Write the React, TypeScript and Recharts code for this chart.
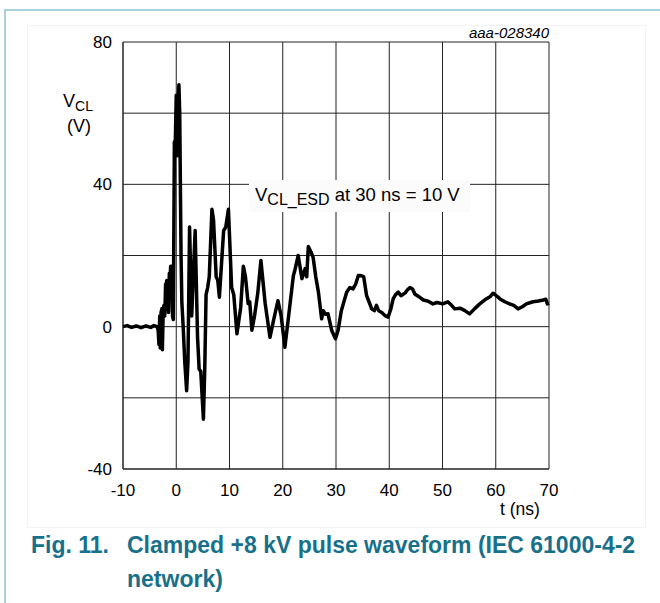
import { CartesianGrid, Line, LineChart, XAxis, YAxis } from "recharts";

// clamped ESD waveform
const TIME_NS = [
  -10, -9.2, -8.4, -7.5, -6.6, -5.7, -4.8, -4.2, -3.6, -3.4,
  -3.25, -3.1, -3.0, -2.85, -2.7, -2.6, -2.45, -2.3, -2.15, -2.0,
  -1.9, -1.8, -1.7, -1.55, -1.45, -1.3, -1.2, -1.05, -0.85, -0.7,
  -0.55, -0.35, -0.2, 0.0, 0.15, 0.3, 0.5, 0.65, 0.9, 1.05,
  1.3, 1.6, 1.95, 2.2, 2.5, 2.9, 3.55, 4.0, 4.3, 4.6,
  5.1, 5.35, 5.6, 5.9, 6.2, 6.7, 7.0, 7.5, 7.8, 8.1,
  8.9, 9.3, 9.8, 10.4, 10.8, 11.4, 12.1, 12.6, 13.0, 13.5,
  13.8, 14.2, 14.7, 15.3, 15.9, 16.7, 17.6, 18.3, 19.1, 19.7,
  20.4, 21, 22, 22.3, 22.9, 23.6, 24.2, 24.5, 24.8, 25.3,
  25.7, 26.2, 26.7, 27.3, 27.6, 28.0, 28.5, 29.2, 29.9, 30.4,
  31, 32, 32.6, 33.2, 33.7, 34.2, 34.8, 35.2, 35.75, 36.2,
  36.7, 37.2, 37.6, 38.0, 38.6, 39.2, 39.8, 40.3, 40.75, 41.2,
  41.7, 42.2, 43.0, 43.5, 43.9, 44.4, 44.8, 45.5, 46.4, 47.2,
  48.2, 49, 50, 51, 51.7, 52.3, 53.3, 54.2, 55.1, 56,
  57, 58.2, 59, 59.5, 60.2, 60.8, 61.7, 62.6, 63.4, 64.2,
  65, 65.75, 67, 68, 68.9, 69.4, 69.7, 70,
];

const V_CL = [
  0, 0.3, -0.2, 0.2, -0.3, 0.2, -0.2, 0.3, 0, -1,
  -5, 3, -6, 4, 5, -6.5, 5, 6, 3, 12,
  7, 13, 8, 10, 4, 15, 12, 17, 17, 3,
  2, 52, 50, 65, 48, 62, 68, 60, 20, 7,
  0, -10, -18, -10, 28, 3, 27, -3, -12, -12.5,
  -26, -12, 9, 11, 14, 33, 30, 14, 13, 8.3,
  27, 28, 33, 11, 9, -2, 5.4, 17, 14, 6.5,
  7, -1, 3, 9.3, 18.6, 6.5, -3, 2, 7.3, 3,
  -5.8, 1.7, 14.4, 16, 20, 13.5, 16.3, 14, 22.5, 21,
  19.5, 14, 9.7, 2.2, 4.5, 3.5, 3.6, -1.1, -3.4, -1,
  4.5, 9.7, 11, 10.6, 12, 14.4, 14.3, 14, 8.7, 7,
  5, 4.5, 6, 4.5, 4, 3.1, 2.7, 5, 7.9, 9,
  9.7, 8.7, 9.5, 10.5, 11, 10.5, 9.2, 8.5, 7.5, 7.2,
  6.4, 6.8, 6.4, 7, 6, 5, 5.2, 4.5, 3.6, 5,
  6.4, 7.8, 8.5, 9.4, 8.6, 7.8, 7, 6.4, 6, 5,
  5.6, 6.4, 7, 7.2, 7.5, 7.7, 6.4, 6.6,
];

const X_TICKS = [-10, 0, 10, 20, 30, 40, 50, 60, 70];
const Y_TICKS = [-40, -20, 0, 20, 40, 60, 80];
const Y_LABELED = [-40, 0, 40, 80];

const data = TIME_NS.map((t, i) => ({ t, v: V_CL[i] }));

const FONT = "'Liberation Sans', Arial, sans-serif";
const FRAME = "#a9d0dc";
const CAPTION = "#18708b";

// subscript that does not stretch the line box
const subStyle = (size: number) => ({
  fontSize: size,
  verticalAlign: "baseline",
  position: "relative" as const,
  top: 4,
});

export default function App() {
  return (
    <div
      style={{
        position: "absolute",
        left: 0,
        top: 0,
        width: 660,
        height: 603,
        background: "#fff",
        fontFamily: FONT,
        overflow: "hidden",
      }}
    >
      {/* page frame */}
      <div
        style={{
          position: "absolute",
          left: 4,
          top: 9,
          width: 670,
          height: 620,
          borderLeft: `2px solid ${FRAME}`,
          borderTop: `2px solid ${FRAME}`,
        }}
      />
      <div
        style={{
          position: "absolute",
          left: 27,
          top: 25,
          width: 617,
          height: 501,
          border: "1px solid #f3f3f3",
        }}
      />

      <div style={{ position: "absolute", left: 0, top: 0 }}>
        <LineChart width={660} height={603} data={data} margin={{ top: 42, right: 111, bottom: 104, left: 63 }}>
          <CartesianGrid stroke="#222" strokeWidth={1} />
          <XAxis
            dataKey="t"
            type="number"
            domain={[-10, 70]}
            ticks={X_TICKS}
            interval={0}
            tickLine={false}
            axisLine={{ stroke: "#222" }}
            tickSize={6}
            tickMargin={9}
            height={30}
            tick={{ fill: "#000", fontSize: 17, fontFamily: FONT }}
          />
          <YAxis
            type="number"
            domain={[-40, 80]}
            ticks={Y_TICKS}
            interval={0}
            tickLine={false}
            axisLine={{ stroke: "#222" }}
            tickSize={6}
            tickMargin={5}
            width={60}
            tickFormatter={(v: number) => (Y_LABELED.includes(v) ? String(v) : "")}
            tick={{ fill: "#000", fontSize: 17, fontFamily: FONT }}
          />
          <Line
            type="linear"
            dataKey="v"
            stroke="#000"
            strokeWidth={3.5}
            dot={false}
            isAnimationActive={false}
            strokeLinejoin="round"
          />
        </LineChart>
      </div>

      {/* figure id */}
      <div
        style={{
          position: "absolute",
          right: 660 - 549,
          top: 24,
          fontSize: 15,
          fontStyle: "italic",
          color: "#000",
        }}
      >
        aaa-028340
      </div>

      {/* y axis title */}
      <div style={{ position: "absolute", left: 63, top: 89, fontSize: 18, lineHeight: "24px", color: "#000" }}>
        <div>
          V<span style={subStyle(14)}>CL</span>
        </div>
        <div style={{ marginLeft: 4 }}>(V)</div>
      </div>

      {/* annotation */}
      <div
        style={{
          position: "absolute",
          left: 249,
          top: 180,
          width: 221,
          height: 32,
          background: "#fbfbfb",
          fontSize: 18.5,
          lineHeight: "30px",
          color: "#000",
          whiteSpace: "nowrap",
          boxSizing: "border-box",
          paddingLeft: 6,
        }}
      >
        V<span style={subStyle(16)}>CL_ESD</span> at 30 ns = 10 V
      </div>

      {/* x axis title */}
      <div style={{ position: "absolute", left: 500, top: 499, fontSize: 17.5, color: "#000" }}>t (ns)</div>

      {/* caption */}
      <div
        style={{
          position: "absolute",
          left: 31,
          top: 528,
          fontSize: 23,
          fontWeight: "bold",
          lineHeight: "34px",
          color: CAPTION,
          display: "flex",
        }}
      >
        <div style={{ width: 96 }}>Fig. 11.</div>
        <div style={{ width: 530 }}>
          Clamped +8 kV pulse waveform (IEC 61000-4-2
          <br />
          network)
        </div>
      </div>
    </div>
  );
}
